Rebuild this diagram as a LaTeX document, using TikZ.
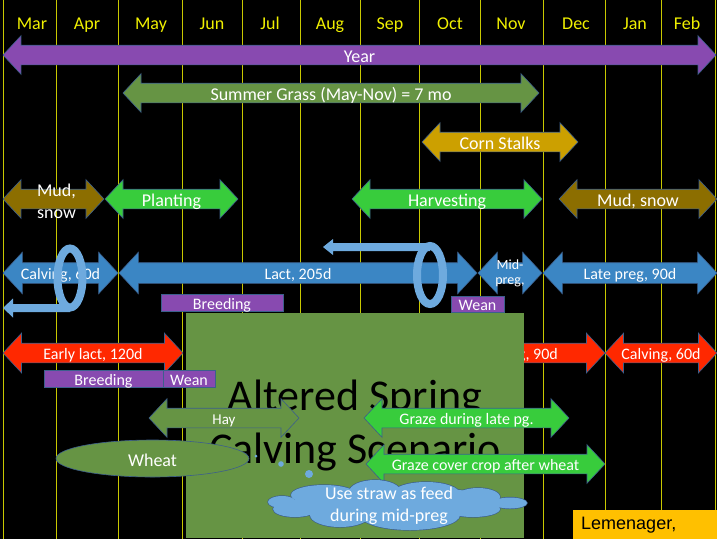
\documentclass[tikz,border=0pt]{standalone}
\usepackage{fontspec}
\setmainfont{Carlito}
\newfontfamily\arialfont{Liberation Sans}
\usetikzlibrary{shapes.arrows,shapes.geometric}

\definecolor{grape}{RGB}{136,74,176}
\definecolor{grass}{RGB}{102,148,68}
\definecolor{stalk}{RGB}{204,160,0}
\definecolor{mud}{RGB}{140,110,0}
\definecolor{leaf}{RGB}{56,204,60}
\definecolor{cow}{RGB}{59,134,196}
\definecolor{sky}{RGB}{110,170,222}
\definecolor{blaze}{RGB}{255,40,0}
\definecolor{amber}{RGB}{255,192,0}
\definecolor{rim}{RGB}{60,95,140}
\definecolor{gridline}{RGB}{200,200,0}
\definecolor{monthtext}{RGB}{240,240,0}

\tikzset{
  t18/.style={font=\fontsize{18}{22}\selectfont, text=white, inner sep=0pt},
  t16/.style={font=\fontsize{16}{19}\selectfont, text=white, inner sep=0pt},
  t14/.style={font=\fontsize{14}{15}\selectfont, text=white, inner sep=0pt, align=center},
  c18/.style={t18, text height=16.5pt, text depth=1.5pt},
  c16/.style={t16, text height=14.5pt, text depth=1.5pt},
  c15/.style={font=\fontsize{15}{18}\selectfont, text=white, inner sep=0pt, text height=13.5pt, text depth=1.5pt},
  band/.style={double arrow, double arrow tip angle=94, double arrow head extend=9.5pt,
    inner xsep=0pt, inner ysep=9.5pt, draw=rim, line width=0.6pt},
  cowband/.style={band, fill=cow, inner ysep=10pt, double arrow head extend=10.5pt},
  fireband/.style={band, fill=blaze, double arrow head extend=10pt},
  tag/.style={rectangle, fill=grape, draw=rim, line width=0.6pt, minimum height=17pt, c16},
  loopline/.style={draw=sky, line width=8pt},
}

\begin{document}
\begin{tikzpicture}[x=1pt,y=-1pt]
  \useasboundingbox (0,0) rectangle (717,539);
  \fill[black] (0,0) rectangle (717,539);
  \foreach \x in {3,56,118,182,242,300,360,419,480,543,605,661,715}
    \draw[gridline, line width=1pt] (\x,0) -- (\x,539);
  \foreach \m/\x in {Mar/32,Apr/87,May/151,Jun/212,Jul/270,Aug/330,Sep/390,Oct/450,Nov/511,Dec/576,Jan/635,Feb/687}
    \node (\m) at (\x,29.3) [anchor=base, inner sep=0pt, text=monthtext, font=\fontsize{18}{22}\selectfont] {\m};

  \node (year) at (359.5,55) [band, fill=grape, minimum height=713, label={[c18]center:Year}] {};
  \node (grass) at (331,93) [band, fill=grass, minimum height=416, label={[c18]center:{Summer Grass (May-Nov) = 7 mo}}] {};
  \node (corn) at (500,142) [band, fill=stalk, minimum height=156, label={[c18]center:Corn Stalks}] {};

  \node (mudA) at (53.5,199) [band, fill=mud, minimum height=101, label={[t18, align=center, xshift=3pt, yshift=-2pt]center:{Mud,\\snow}}] {};
  \node (plant) at (171.5,199) [band, fill=leaf, minimum height=133, label={[c18]center:Planting}] {};
  \node (harvest) at (447,199) [band, fill=leaf, minimum height=190, label={[c18]center:Harvesting}] {};
  \node (mudB) at (638,199) [band, fill=mud, minimum height=158, label={[c18]center:{Mud, snow}}] {};

  \node (calvA) at (60.5,273) [cowband, minimum height=115, label={[c16]center:{Calving, 60d}}] {};
  \node (lact) at (298,273) [cowband, minimum height=358, label={[c16]center:{Lact, 205d}}] {};
  \node (midA) at (510,273) [cowband, minimum height=64, label={[t14]center:{Mid-\\preg,}}] {};
  \node (lateA) at (630,273) [cowband, minimum height=174, label={[c16]center:{Late preg, 90d}}] {};

  \draw[loopline] (70,278) ellipse (12.5 and 29.5);
  \fill[sky] (70,304) -- (13,304) -- (13,298.5) -- (3,308) -- (13,317.5) -- (13,312) -- (70,312) -- cycle;
  \draw[loopline] (430,275) ellipse (13 and 29);
  \fill[sky] (430,243) -- (333,243) -- (333,239) -- (323,247) -- (333,255) -- (333,251) -- (430,251) -- cycle;

  \node (early) at (93,353) [fireband, minimum height=180, label={[c16]center:{Early lact, 120d}}] {};
  \node (lateB) at (511.5,353) [fireband, minimum height=187, label={[c16]center:{Late preg, 90d}}] {};
  \node (calvB) at (661,353) [fireband, minimum height=112, label={[c16]center:{Calving, 60d}}] {};

  \node (scene) at (355,425.5) [rectangle, fill=grass, minimum width=338, minimum height=225, inner sep=0pt, align=center, font=\fontsize{44}{53}\selectfont] {Altered Spring\\Calving Scenario};

  \node (breedA) at (222,302.5) [tag, minimum width=122] {Breeding};
  \node (weanA) at (477.5,304) [tag, minimum width=53, minimum height=16] {Wean};
  \node (breedB) at (103.5,378.5) [tag, minimum width=119] {Breeding};
  \node (weanB) at (189,378.5) [tag, minimum width=52] {Wean};

  \node (hay) at (224,418) [band, fill=grass, minimum height=150, label={[c15]center:Hay}] {};
  \node (wheat) at (152.5,458.5) [ellipse, fill=grass, draw=rim, line width=0.6pt, minimum width=193, minimum height=37, c18] {Wheat};
  \node (grazeA) at (466.5,418) [band, fill=leaf, minimum height=205, label={[c16]center:{Graze during late pg.}}] {};
  \node (grazeB) at (485.5,464) [band, fill=leaf, minimum height=239, label={[c16]center:{Graze cover crop after wheat}}] {};

  \fill[sky] (256,456) circle (1.5);
  \fill[sky] (281,464) circle (2.8);
  \fill[sky] (309,474) circle (4);
  \foreach \cx/\cy/\rx/\ry in {282/502/14/6, 324/495/33/10, 375/492/26/12, 426/494/34/12, 478/497/22/9, 510/503/17/5.5,
      473/509/27/8, 410/515/50/15, 340/515/30/12, 295/509/22/8, 398/503/105/16}
    \draw[rim, line width=1.3pt] (\cx,\cy) ellipse [x radius=\rx, y radius=\ry];
  \foreach \cx/\cy/\rx/\ry in {282/502/14/6, 324/495/33/10, 375/492/26/12, 426/494/34/12, 478/497/22/9, 510/503/17/5.5,
      473/509/27/8, 410/515/50/15, 340/515/30/12, 295/509/22/8, 398/503/105/16}
    \fill[sky] (\cx,\cy) ellipse [x radius=\rx, y radius=\ry];
  \node (straw) at (389,506) [t18, align=center] {Use straw as feed\\during mid-preg};

  \node (credit) at (573,510) [anchor=north west, rectangle, fill=amber, minimum height=29, text width=128pt, inner xsep=8pt, inner ysep=0pt, align=left, font=\arialfont\fontsize{18}{22}\selectfont] {Lemenager,};
\end{tikzpicture}
\end{document}
